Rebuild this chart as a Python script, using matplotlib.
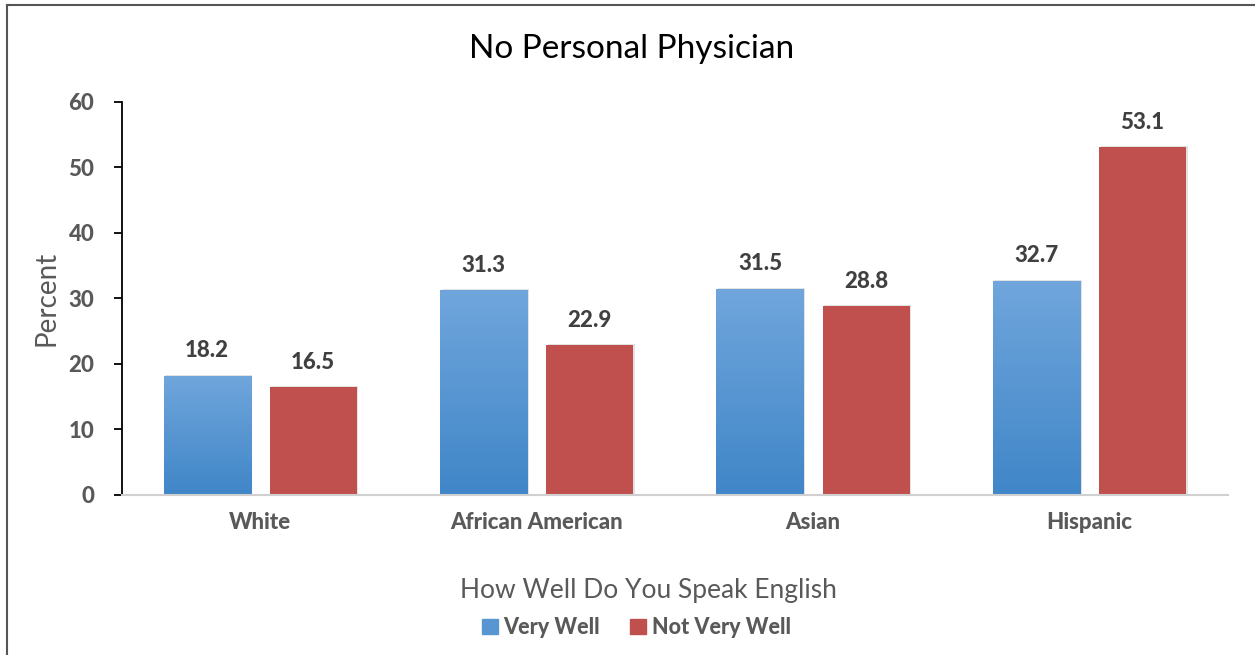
import numpy as np
import matplotlib
matplotlib.use("Agg")
import matplotlib.pyplot as plt
from matplotlib.patches import Rectangle

plt.rcParams['font.family'] = ['Lato', 'DejaVu Sans']

groups = ["White", "African American", "Asian", "Hispanic"]
very_well = [18.2, 31.3, 31.5, 32.7]
not_very_well = [16.5, 22.9, 28.8, 53.1]
series_names = ["Very Well", "Not Very Well"]

blue_top = np.array([0x70, 0xa6, 0xdc]) / 255
blue_bottom = np.array([0x40, 0x86, 0xc8]) / 255
red = "#c0504d"
label_gray = "#595959"
value_gray = "#404040"
heavy = 900

fig = plt.figure(figsize=(12.55, 6.55), dpi=100)
ax = fig.add_axes([0.0972, 0.2443, 0.881, 0.6])

x = np.arange(len(groups))
width = 0.315
gap = 0.069
offset = width / 2 + gap / 2

# vertical gradient for the first series, clipped to each bar
grad = np.linspace(0, 1, 256)[:, None, None]
grad_img = blue_bottom * (1 - grad) + blue_top * grad

blue_bars = ax.bar(x - offset, very_well, width, color="none", edgecolor="none", zorder=2)
for bar in blue_bars:
    x0, y0 = bar.get_x(), bar.get_y()
    w, h = bar.get_width(), bar.get_height()
    # faint shadow
    ax.add_patch(Rectangle((x0 + 0.006, y0), w, h + 0.15, color="#e2e2e2", zorder=1.5, lw=0))
    im = ax.imshow(grad_img, extent=[x0, x0 + w, y0, y0 + h], origin="lower",
                   aspect="auto", zorder=2, interpolation="bilinear")
    im.set_clip_path(bar)

red_bars = ax.bar(x + offset, not_very_well, width, color=red, edgecolor="none", zorder=2)
for bar in red_bars:
    ax.add_patch(Rectangle((bar.get_x() + 0.006, 0), bar.get_width(), bar.get_height() + 0.15,
                           color="#e2e2e2", zorder=1.5, lw=0))

ax.set_xlim(-0.5, len(groups) - 0.5)
ax.set_ylim(0, 60)

for bars, vals in [(blue_bars, very_well), (red_bars, not_very_well)]:
    for bar, v in zip(bars, vals):
        ax.text(bar.get_x() + bar.get_width() / 2, v + 3.8, f"{v:.1f}",
                ha="center", va="center", fontsize=16, fontweight=heavy, color=value_gray)

ax.set_xticks(x)
ax.set_xticklabels(groups, fontsize=16, fontweight=heavy, color=label_gray)
ax.tick_params(axis="x", length=0, pad=12)
ax.set_yticks(range(0, 61, 10))
ax.set_yticklabels([str(t) for t in range(0, 61, 10)], fontsize=16, fontweight=heavy, color=label_gray)
ax.tick_params(axis="y", length=6, width=1.3, color="black", pad=14)

for side in ["top", "right"]:
    ax.spines[side].set_visible(False)
ax.spines["left"].set_color("black")
ax.spines["left"].set_linewidth(1.3)
ax.spines["bottom"].set_color("#d0d0d0")
ax.spines["bottom"].set_linewidth(1.5)

ax.set_ylabel("Percent", fontsize=20, color=label_gray, labelpad=6)

fig.text(0.5035, 0.925, "No Personal Physician", ha="center", va="center", fontsize=24, color="black")
fig.text(0.517, 0.099, "How Well Do You Speak English", ha="center", va="center", fontsize=19, color=label_gray)

# legend
handles = [Rectangle((0, 0), 1, 1, color=tuple((blue_top + blue_bottom) / 2)),
           Rectangle((0, 0), 1, 1, color=red)]
leg = fig.legend(handles, series_names, loc="center", bbox_to_anchor=(0.507, 0.042), ncol=2,
                 frameon=False, handlelength=0.75, handleheight=0.75, handletextpad=0.25,
                 columnspacing=1.4, prop={"size": 15.5, "weight": heavy})
for t in leg.get_texts():
    t.set_color(label_gray)

# outer frame lines on top and left
fig.add_artist(plt.Line2D([0.0056, 1.0], [0.9924, 0.9924], transform=fig.transFigure,
                          color="#555555", lw=1.5))
fig.add_artist(plt.Line2D([0.0056, 0.0056], [0.0, 0.9924], transform=fig.transFigure,
                          color="#555555", lw=1.5))

fig.savefig("out.png", dpi=100)
